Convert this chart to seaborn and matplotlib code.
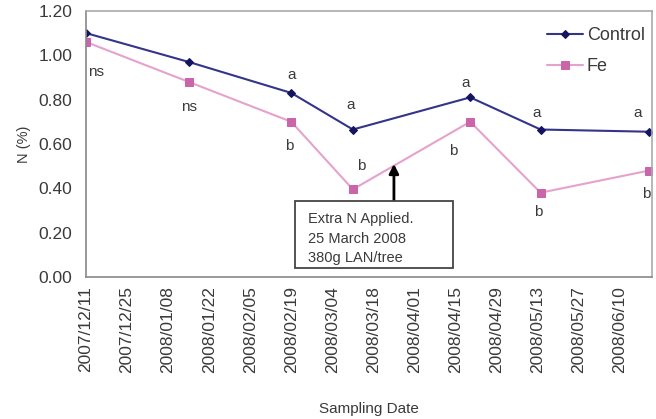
import pandas as pd
import matplotlib
matplotlib.use("Agg")
import matplotlib.pyplot as plt
import matplotlib.dates as mdates
from matplotlib.patches import Rectangle
import seaborn as sns

dates = ["2007-12-11", "2008-01-15", "2008-02-19", "2008-03-11",
         "2008-04-20", "2008-05-14", "2008-06-20"]
control = [1.10, 0.97, 0.83, 0.665, 0.81, 0.665, 0.655]
fe = [1.06, 0.88, 0.70, 0.395, 0.70, 0.38, 0.48]
control_lbl = ["", "", "a", "a", "a", "a", "a"]
fe_lbl = ["ns", "ns", "b", "b", "b", "b", "b"]
# label offsets in pixels (dx, dy)
control_off = [(0, 0), (0, 0), (0, 18), (-2, 25), (-5, 14), (-4, 17), (-12, 19)]
fe_off = [(10, -30), (0, -25), (-2, -24), (8, 23), (-17, -29), (-2, -19), (-3, -23)]

df = pd.DataFrame({"date": pd.to_datetime(dates), "Control": control, "Fe": fe})

sns.set_style("white")
plt.rcParams["font.family"] = ["Liberation Sans", "DejaVu Sans"]
txt_col = "#3a3a3a"

fig = plt.figure(figsize=(6.56, 4.19), dpi=100)
ax = fig.add_axes([0.131, 0.339, 0.863, 0.635])

sns.lineplot(data=df, x="date", y="Control", ax=ax, color="#34348a", marker="D",
             markersize=4.5, markeredgecolor="#141460", markerfacecolor="#141460",
             linewidth=1.5, label="Control")
sns.lineplot(data=df, x="date", y="Fe", ax=ax, color="#e6a2cc", marker="s",
             markersize=6, markeredgecolor="#c965a8", markerfacecolor="#c965a8",
             linewidth=1.5, label="Fe")

# significance letters
for d, v, t, o in zip(df["date"], df["Control"], control_lbl, control_off):
    if t:
        ax.annotate(t, (d, v), xytext=o, textcoords="offset pixels",
                    ha="center", va="center", fontsize=11, color=txt_col)
for d, v, t, o in zip(df["date"], df["Fe"], fe_lbl, fe_off):
    ax.annotate(t, (d, v), xytext=o, textcoords="offset pixels",
                ha="center", va="center", fontsize=11, color=txt_col)

# extra N annotation
ax.add_patch(Rectangle((0.369, 0.034), 0.279, 0.252, transform=ax.transAxes,
                       fc="white", ec="#444444", lw=1.3, zorder=4))
ax.text(0.392, 0.143, "Extra N Applied.\n25 March 2008\n380g LAN/tree",
        transform=ax.transAxes, ha="left", va="center", fontsize=10.5,
        color=txt_col, linespacing=1.5, zorder=5)
ax.annotate("", xy=(pd.Timestamp("2008-03-25"), 0.51),
            xytext=(pd.Timestamp("2008-03-25"), 0.343),
            arrowprops=dict(arrowstyle="-|>", color="black", lw=2,
                            shrinkA=0, shrinkB=0, mutation_scale=14))

ticks = pd.date_range("2007-12-11", "2008-06-10", freq="14D")
ax.set_xticks(ticks)
ax.xaxis.set_major_formatter(mdates.DateFormatter("%Y/%m/%d"))
plt.setp(ax.get_xticklabels(), rotation=90, fontsize=12.5, color=txt_col)
ax.set_xlim(pd.Timestamp("2007-12-11"), pd.Timestamp("2008-06-21"))
ax.set_ylim(0, 1.2)
yt = [0, 0.2, 0.4, 0.6, 0.8, 1.0, 1.2]
ax.set_yticks(yt)
ax.set_yticklabels([f"{v:.2f}" for v in yt], fontsize=12.5, color=txt_col)
ax.tick_params(axis="both", length=3, color="#aaaaaa", direction="out")
ax.tick_params(axis="y", pad=7)
ax.set_xlabel("Sampling Date", fontsize=11, color=txt_col)
ax.set_ylabel("N (%)", fontsize=10.5, color=txt_col)
ax.xaxis.set_label_coords(0.5, -0.47)
ax.yaxis.set_label_coords(-0.097, 0.5)
for s in ax.spines.values():
    s.set_color("#aaaaaa")
    s.set_linewidth(1.2)
ax.spines["left"].set_color("#888888")
ax.spines["bottom"].set_color("#888888")

leg = ax.legend(loc="upper right", bbox_to_anchor=(1.0, 0.965), frameon=False,
                fontsize=13, handlelength=2.0, handletextpad=0.2,
                borderaxespad=0.0, labelspacing=0.75)
for txt in leg.get_texts():
    txt.set_color(txt_col)

fig.savefig("out.png", dpi=100)
